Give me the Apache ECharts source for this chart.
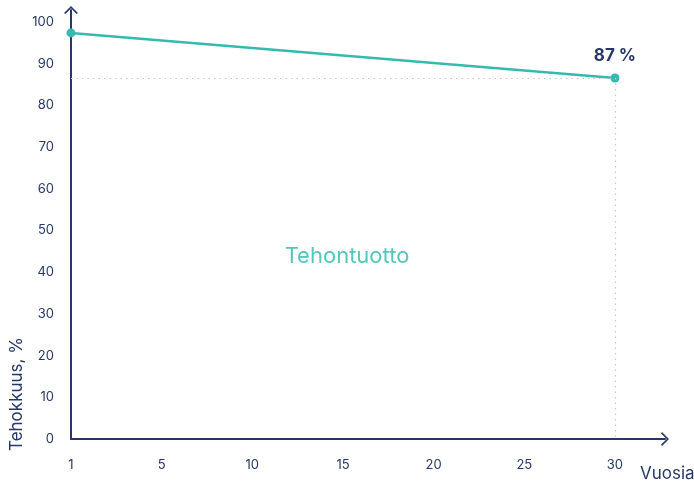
<!DOCTYPE html>
<html>
<head>
<meta charset="utf-8">
<script src="https://cdn.jsdelivr.net/npm/echarts@6/dist/echarts.min.js"></script>
<style>html,body{margin:0;padding:0;background:#fff}#c{width:694px;height:481px}</style>
</head>
<body>
<div id="c"></div>
<script>
// Data
const xValues = [0, 30];            // axis positions (origin is labelled "1")
const efficiency = [97.4, 86.6];    // Tehokkuus, %
const endLabel = '87 %';
const xTickValues = [0, 5, 10, 15, 20, 25, 30];
const xTickLabels = ['1', '5', '10', '15', '20', '25', '30'];
const yTickValues = [0, 10, 20, 30, 40, 50, 60, 70, 80, 90, 100];
const seriesName = 'Tehontuotto';
const yName = 'Tehokkuus, %';
const xName = 'Vuosia';

const navy = '#273866';
const teal = '#36b9ae';
const font = 'Inter, "Noto Sans", sans-serif';
const chevron = 'path://M0,7 L7,0 L14,7 L12.5,8 L7,2.2 L1.5,8 Z';

const chart = echarts.init(document.getElementById('c'));
chart.setOption({
  animation: false,
  grid: { left: 71, right: 29, top: 10, bottom: 42, containLabel: false },
  title: {
    text: seriesName, left: 'center', top: 240,
    textStyle: { color: '#55c6ba', fontSize: 22, fontWeight: 'normal', fontFamily: font }
  },
  graphic: [
    { type: 'text', x: 17, y: 451, rotation: Math.PI / 2,
      style: { text: yName, fill: navy, font: '17px ' + font, textAlign: 'left', textVerticalAlign: 'middle' } },
    { type: 'text', x: 640, y: 474,
      style: { text: xName, fill: navy, font: '17px ' + font, textAlign: 'left', textVerticalAlign: 'middle' } }
  ],
  xAxis: {
    type: 'value', min: 0, max: 32.76, interval: 5,
    axisLine: { lineStyle: { color: navy, width: 2 }, symbol: ['none', chevron], symbolSize: [14, 8], symbolOffset: [0, 0] },
    axisTick: { show: false },
    splitLine: { show: false },
    axisLabel: {
      color: navy, fontSize: 13, fontFamily: font, margin: 20,
      formatter: v => { const i = xTickValues.indexOf(v); return i >= 0 ? xTickLabels[i] : ''; }
    }
  },
  yAxis: {
    type: 'value', min: 0, max: 102.9, interval: 10,
    axisLine: { show: true, lineStyle: { color: navy, width: 2 }, symbol: ['none', chevron], symbolSize: [14, 8], symbolOffset: [0, 0] },
    axisTick: { show: false },
    splitLine: { show: false },
    axisLabel: {
      color: navy, fontSize: 13, fontFamily: font, margin: 17,
      formatter: v => yTickValues.indexOf(v) >= 0 ? String(v) : ''
    }
  },
  series: [{
    name: seriesName, type: 'line',
    data: xValues.map((x, i) => [x, efficiency[i]]),
    symbol: 'circle', symbolSize: 9,
    lineStyle: { color: teal, width: 2.5 },
    itemStyle: { color: teal },
    label: {
      show: true, position: 'top', distance: 9,
      formatter: p => p.dataIndex === xValues.length - 1 ? endLabel : '',
      color: navy, fontSize: 17, fontWeight: 'bold', fontFamily: font
    },
    markLine: {
      silent: true, symbol: 'none', label: { show: false },
      lineStyle: { color: '#c4c8cf', type: [1.5, 4], width: 1.2 },
      data: [
        [{ coord: [xValues[0], efficiency[1]] }, { coord: [xValues[1], efficiency[1]] }],
        [{ coord: [xValues[1], efficiency[1]] }, { coord: [xValues[1], 0] }]
      ]
    },
    z: 3
  }]
});
</script>
</body>
</html>
